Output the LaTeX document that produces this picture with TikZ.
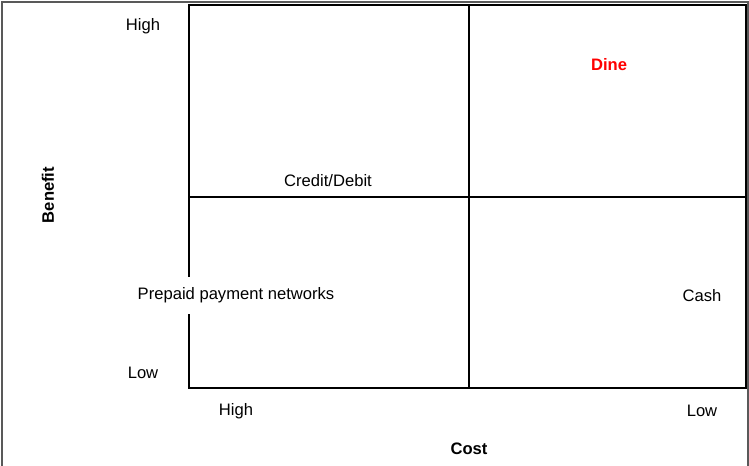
\documentclass[tikz,border=0pt]{standalone}
\usepackage{fontspec}
\setmainfont{Liberation Sans}
\usepackage{tikz}

\begin{document}
\begin{tikzpicture}[x=1bp,y=-1bp,auto=center,font=\fontsize{16.6bp}{20bp}\selectfont]
			\useasboundingbox (0,0) rectangle (749,466);
			\draw[gray!70!black,line width=1.4bp] (2,466) -- (2,2) -- (748,2) -- (748,466);
			\coordinate (nw) at (189,5);
			\coordinate (se) at (746,388);
			\draw[line width=1.8bp] (nw) rectangle (se);
			\draw[line width=1.8bp] (469,5) -- (469,388);
			\draw[line width=1.8bp] (189,197) -- (746,197);
			\node[] (bhigh) at (143,26.5) {High};
			\node[] (blow) at (143,373) {Low};
			\node[rotate=90,font=\fontsize{16.6bp}{20bp}\selectfont\bfseries] (benefit) at (48,195) {Benefit};
			\node[] (chigh) at (236,411.5) {High};
			\node[] (clow) at (702,411) {Low};
			\node[font=\fontsize{16.6bp}{20bp}\selectfont\bfseries] (cost) at (469,449) {Cost};
			\node[] (credit) at (328,181) {Credit/Debit};
			\node[text=red,font=\fontsize{16.6bp}{20bp}\selectfont\bfseries] (dine) at (609,64.5) {Dine};
			\node[fill=white,inner xsep=1bp,inner ysep=11bp] (prepaid) at (236,295.5) {Prepaid payment networks};
			\node[] (cash) at (702,295.5) {Cash};
		\end{tikzpicture}
\end{document}
